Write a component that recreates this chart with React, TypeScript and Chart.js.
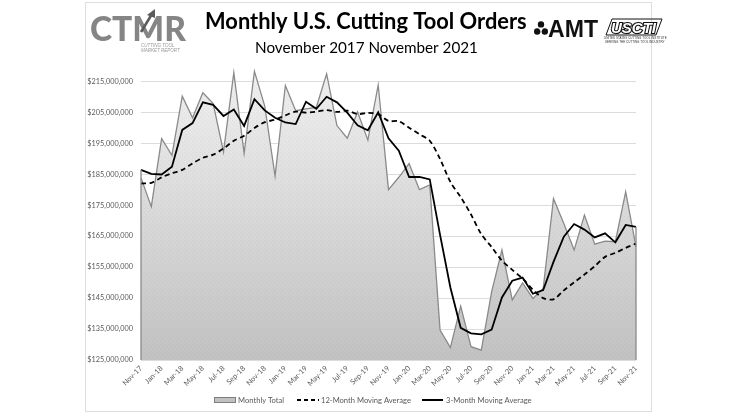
import React, { useEffect, useRef } from "react";
import { Chart, registerables } from "chart.js";

Chart.register(...registerables);

const months = [
  "Nov-17", "Dec-17",
  "Jan-18", "Feb-18", "Mar-18", "Apr-18", "May-18", "Jun-18", "Jul-18", "Aug-18", "Sep-18", "Oct-18", "Nov-18", "Dec-18",
  "Jan-19", "Feb-19", "Mar-19", "Apr-19", "May-19", "Jun-19", "Jul-19", "Aug-19", "Sep-19", "Oct-19", "Nov-19", "Dec-19",
  "Jan-20", "Feb-20", "Mar-20", "Apr-20", "May-20", "Jun-20", "Jul-20", "Aug-20", "Sep-20", "Oct-20", "Nov-20", "Dec-20",
  "Jan-21", "Feb-21", "Mar-21", "Apr-21", "May-21", "Jun-21", "Jul-21", "Aug-21", "Sep-21", "Oct-21", "Nov-21",
];

// values in millions of dollars
const monthlyTotal = [
  183.8, 174.5,
  196.5, 191.1, 210.2, 203.2, 211.3, 207.8, 192.2, 217.8, 191.7, 218.2, 207.0, 184.4,
  213.6, 205.5, 206.1, 206.6, 217.4, 200.7, 196.6, 205.1, 196.0, 213.8, 180.0, 184.0,
  188.4, 180.0, 181.5, 134.7, 129.0, 142.4, 129.3, 128.2, 147.0, 160.5, 144.4, 149.9,
  144.9, 148.1, 177.1, 169.1, 160.5, 171.8, 162.4, 163.4, 163.2, 179.3, 161.5,
];

const movingAvg12 = [
  182.0, 182.2,
  184.0, 185.3, 186.4, 188.5, 190.3, 191.3, 193.3, 195.8, 197.4, 199.9, 201.8, 202.6,
  204.0, 205.2, 204.9, 205.2, 205.7, 205.1, 205.5, 204.4, 204.8, 204.4, 202.2, 202.1,
  200.0, 197.9, 195.8, 189.9, 182.5, 177.6, 172.0, 165.6, 161.5, 157.1, 154.1, 151.3,
  147.7, 145.0, 144.6, 147.5, 150.1, 152.6, 155.3, 158.3, 159.6, 161.2, 162.6,
];

const movingAvg3 = [
  186.4, 185.1,
  184.9, 187.4, 199.3, 201.5, 208.2, 207.4, 203.8, 205.9, 200.6, 209.2, 205.6, 203.2,
  201.7, 201.2, 208.4, 206.1, 210.0, 208.2, 204.9, 200.8, 199.2, 205.0, 196.6, 192.6,
  184.1, 184.1, 183.3, 165.4, 148.4, 135.4, 133.6, 133.3, 134.8, 145.2, 150.6, 151.6,
  146.4, 147.6, 156.7, 164.8, 168.9, 167.1, 164.6, 165.9, 163.0, 168.6, 168.0,
];

const yTickValues = [125, 135, 145, 155, 165, 175, 185, 195, 205, 215];

const seriesNames = ["Monthly Total", "12-Month Moving Average", "3-Month Moving Average"];
const titleText = "Monthly U.S. Cutting Tool Orders";
const subtitleText = "November 2017 November 2021";

function fitFont(ctx: CanvasRenderingContext2D, text: string, style: string, family: string, width: number) {
  ctx.font = `${style} 100px ${family}`;
  const w = ctx.measureText(text).width;
  const size = (100 * width) / w;
  ctx.font = `${style} ${size}px ${family}`;
  return size;
}

function makePattern(ctx: CanvasRenderingContext2D) {
  const pc = document.createElement("canvas");
  pc.width = 4;
  pc.height = 414;
  const p = pc.getContext("2d")!;
  const g = p.createLinearGradient(0, 66, 0, 360);
  g.addColorStop(0, "#f1f1f1");
  g.addColorStop(1, "#c2c2c2");
  p.fillStyle = g;
  p.fillRect(0, 0, 4, 414);
  p.fillStyle = "rgba(0,0,0,0.045)";
  for (let y = 0; y < 414; y += 2) {
    p.fillRect(((y / 2) % 2) * 2, y, 1, 1);
  }
  return ctx.createPattern(pc, "repeat")!;
}

const decorPlugin = {
  id: "decor",
  beforeDraw(chart: any) {
    const ctx: CanvasRenderingContext2D = chart.ctx;
    ctx.save();
    ctx.fillStyle = "#ffffff";
    ctx.fillRect(0, 0, chart.width, chart.height);
    ctx.strokeStyle = "#dedede";
    ctx.lineWidth = 1;
    ctx.strokeRect(85.5, 2.5, 566, 409);
    ctx.restore();
  },
  afterDatasetsDraw(chart: any) {
    const ctx: CanvasRenderingContext2D = chart.ctx;
    const meta = chart.getDatasetMeta(2);
    const pts = meta.data;
    const first = pts[0];
    const last = pts[pts.length - 1];
    const b = chart.chartArea.bottom;
    ctx.save();
    ctx.strokeStyle = "#8a8a8a";
    ctx.lineWidth = 1.3;
    ctx.beginPath();
    ctx.moveTo(first.x, first.y);
    ctx.lineTo(first.x, b);
    ctx.moveTo(last.x, last.y);
    ctx.lineTo(last.x, b);
    ctx.stroke();
    ctx.restore();
  },
  afterDraw(chart: any) {
    const ctx: CanvasRenderingContext2D = chart.ctx;
    ctx.save();

    // Title
    ctx.fillStyle = "#000000";
    ctx.textAlign = "left";
    ctx.textBaseline = "alphabetic";
    fitFont(ctx, titleText, "bold", "Lato, 'Liberation Sans', sans-serif", 322);
    ctx.fillText(titleText, 205, 29);
    fitFont(ctx, subtitleText, "normal", "Lato, 'Liberation Sans', sans-serif", 223);
    ctx.fillText(subtitleText, 255, 53);

    // CTMR logo
    ctx.fillStyle = "#858585";
    fitFont(ctx, "CTMR", "900", "Lato, 'Liberation Sans', sans-serif", 96);
    ctx.fillText("CTMR", 90, 41);
    // arrow on the M
    ctx.strokeStyle = "#5a5a5a";
    ctx.lineWidth = 2.5;
    ctx.beginPath();
    ctx.moveTo(141, 32);
    ctx.lineTo(152, 14);
    ctx.stroke();
    ctx.fillStyle = "#5a5a5a";
    ctx.beginPath();
    ctx.moveTo(155, 9);
    ctx.lineTo(147, 15);
    ctx.lineTo(155, 18);
    ctx.closePath();
    ctx.fill();
    ctx.fillStyle = "#9a9a9a";
    ctx.font = "italic 4.5px 'Liberation Sans', sans-serif";
    ctx.fillText("CUTTING TOOL", 141, 47);
    ctx.fillText("MARKET REPORT", 141, 52);

    // AMT logo
    ctx.fillStyle = "#111111";
    const cx = 541, cy = 29;
    ctx.beginPath();
    ctx.arc(cx, cy - 4.5, 3.2, 0, Math.PI * 2);
    ctx.arc(cx - 3.8, cy + 2.5, 3.2, 0, Math.PI * 2);
    ctx.fill();
    ctx.beginPath();
    ctx.arc(cx + 3.8, cy + 2.5, 3.2, 0, Math.PI * 2);
    ctx.fill();
    ctx.fillStyle = "#ffffff";
    ctx.beginPath();
    ctx.arc(cx, cy, 1.5, 0, Math.PI * 2);
    ctx.fill();
    ctx.fillStyle = "#111111";
    fitFont(ctx, "AMT", "900", "'Liberation Sans', sans-serif", 50);
    ctx.fillText("AMT", 548, 37);

    // USCTI logo
    ctx.strokeStyle = "#111111";
    ctx.lineWidth = 1;
    ctx.beginPath();
    ctx.moveTo(606, 35);
    ctx.lineTo(612, 19);
    ctx.lineTo(662, 19);
    ctx.lineTo(656, 35);
    ctx.closePath();
    ctx.stroke();
    ctx.font = "italic bold 15px 'Liberation Sans', sans-serif";
    ctx.lineWidth = 2.2;
    ctx.strokeText("USCTI", 611, 33);
    ctx.fillStyle = "#ffffff";
    ctx.fillText("USCTI", 611, 33);
    ctx.fillStyle = "#333333";
    ctx.font = "3px 'Liberation Sans', sans-serif";
    ctx.fillText("UNITED STATES CUTTING TOOL INSTITUTE", 604, 39);
    ctx.fillText("SERVING THE CUTTING TOOL INDUSTRY", 605, 42.5);

    // Legend
    const ly = 400;
    ctx.fillStyle = chart.data.datasets[0].backgroundColor;
    ctx.fillRect(214, ly - 3, 22, 6);
    ctx.strokeStyle = "#7f7f7f";
    ctx.lineWidth = 1;
    ctx.strokeRect(214.5, ly - 2.5, 21, 5);
    ctx.strokeStyle = "#000000";
    ctx.lineWidth = 2;
    ctx.setLineDash([4, 3]);
    ctx.beginPath();
    ctx.moveTo(297, ly);
    ctx.lineTo(319, ly);
    ctx.stroke();
    ctx.setLineDash([]);
    ctx.beginPath();
    ctx.moveTo(422, ly);
    ctx.lineTo(443, ly);
    ctx.stroke();
    ctx.fillStyle = "#595959";
    ctx.textBaseline = "middle";
    ctx.font = "7.6px Lato, 'Liberation Sans', sans-serif";
    ctx.fillText(seriesNames[0], 238, ly + 0.5);
    ctx.fillText(seriesNames[1], 321, ly + 0.5);
    ctx.fillText(seriesNames[2], 446, ly + 0.5);

    ctx.restore();
  },
};

export default function App() {
  const canvasRef = useRef<HTMLCanvasElement | null>(null);

  useEffect(() => {
    const canvas = canvasRef.current!;
    const ctx = canvas.getContext("2d")!;
    const pattern = makePattern(ctx);

    const chart = new Chart(canvas, {
      type: "line",
      data: {
        labels: months,
        datasets: [
          {
            label: seriesNames[0],
            data: monthlyTotal,
            borderColor: "#8a8a8a",
            borderWidth: 1.3,
            backgroundColor: pattern as any,
            fill: "start",
            pointRadius: 0,
            tension: 0,
            order: 3,
          },
          {
            label: seriesNames[1],
            data: movingAvg12,
            borderColor: "#000000",
            borderWidth: 1.8,
            borderDash: [5, 3.5],
            fill: false,
            pointRadius: 0,
            tension: 0.3,
            order: 2,
          },
          {
            label: seriesNames[2],
            data: movingAvg3,
            borderColor: "#000000",
            borderWidth: 1.8,
            fill: false,
            pointRadius: 0,
            tension: 0,
            order: 1,
          },
        ],
      },
      options: {
        responsive: false,
        animation: false,
        devicePixelRatio: 1,
        layout: { padding: { left: 0, right: 100, top: 65.8, bottom: 0 } },
        plugins: {
          legend: { display: false },
          title: { display: false },
          tooltip: { enabled: false },
        },
        scales: {
          x: {
            type: "category",
            offset: false,
            grid: { display: false, drawTicks: false },
            border: { display: false },
            ticks: {
              autoSkip: false,
              maxRotation: 45,
              minRotation: 45,
              padding: 4,
              color: "#595959",
              font: { family: "Lato, 'Liberation Sans', sans-serif", size: 7.3 },
              callback: (_v: any, i: number) => (i % 2 === 0 ? months[i] : ""),
            },
            afterFit: (s: any) => {
              s.height = 54;
            },
          },
          y: {
            min: 125,
            max: 220,
            grid: { color: "#dcdcdc", drawTicks: false, lineWidth: 1 },
            border: { display: false },
            afterBuildTicks: (axis: any) => {
              axis.ticks = yTickValues.map((v) => ({ value: v }));
            },
            ticks: {
              padding: 8,
              color: "#595959",
              font: { family: "Lato, 'Liberation Sans', sans-serif", size: 7.3 },
              callback: (v: any) => "$" + (Number(v) * 1000000).toLocaleString("en-US"),
            },
            afterFit: (s: any) => {
              s.width = 141;
            },
          },
        },
      },
      plugins: [decorPlugin],
    });

    return () => chart.destroy();
  }, []);

  return (
    <div style={{ position: "absolute", left: 0, top: 0, width: 736, height: 414 }}>
      <canvas ref={canvasRef} width={736} height={414} style={{ display: "block" }} />
    </div>
  );
}
